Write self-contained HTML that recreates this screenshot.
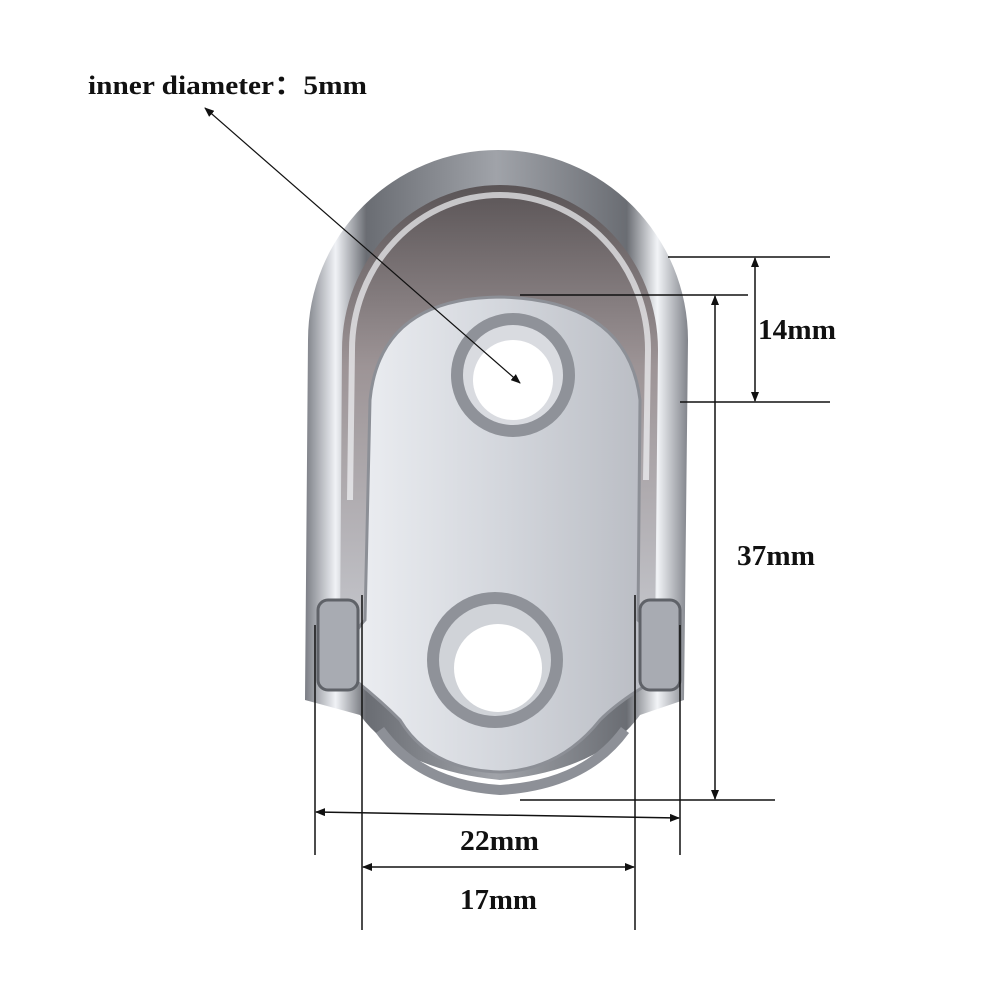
<!DOCTYPE html>
<html><head><meta charset="utf-8"><style>
html,body{margin:0;padding:0;background:#fff}
svg{display:block}
text{font-family:"Liberation Serif",serif;font-weight:bold;fill:#111}
</style></head><body>
<svg width="1000" height="1000" viewBox="0 0 1000 1000" xmlns="http://www.w3.org/2000/svg">
<defs>
<linearGradient id="chrome" x1="0" x2="1" y1="0" y2="0">
<stop offset="0" stop-color="#7a7d84"/><stop offset="0.08" stop-color="#f0f2f6"/><stop offset="0.16" stop-color="#6a6d73"/>
<stop offset="0.5" stop-color="#a0a3a9"/><stop offset="0.84" stop-color="#6a6d73"/><stop offset="0.92" stop-color="#f2f4f7"/><stop offset="1" stop-color="#80838a"/>
</linearGradient>
<linearGradient id="cav" x1="0" x2="0" y1="0" y2="1">
<stop offset="0" stop-color="#5a5456"/><stop offset="0.4" stop-color="#9d9496"/><stop offset="1" stop-color="#c5c7cd"/>
</linearGradient>
<linearGradient id="plate" x1="0" x2="1" y1="0" y2="0">
<stop offset="0" stop-color="#eceef2"/><stop offset="0.5" stop-color="#d3d6dc"/><stop offset="1" stop-color="#b8bbc2"/>
</linearGradient>
<marker id="ah" markerWidth="10" markerHeight="8" refX="9" refY="4" orient="auto-start-reverse" markerUnits="userSpaceOnUse">
<path d="M0,0 L10,4 L0,8 z" fill="#111"/></marker>
</defs>

<path d="M305,700 L308,340 A190,190 0 0 1 688,340 L684,700 L640,715 Q600,770 500,780 Q400,770 360,715 Z" fill="url(#chrome)"/>
<path d="M340,640 L342,350 A158,165 0 0 1 658,350 L655,640 Z" fill="url(#cav)"/>
<path d="M350,500 L352,350 A148,155 0 0 1 648,350 L646,480" fill="none" stroke="#f2f3f6" stroke-width="6" opacity="0.7"/>
<path d="M365,620 L370,400 Q380,298 500,297 Q628,300 640,400 L638,620 Q660,640 655,680 Q620,700 600,720 Q560,770 500,772 Q430,770 400,720 Q380,700 355,680 Q345,640 365,620 Z" fill="url(#plate)" stroke="#8c8f96" stroke-width="3"/>
<path d="M380,730 Q420,785 500,790 Q585,785 625,730" fill="none" stroke="#8d9097" stroke-width="10"/>
<rect x="318" y="600" width="40" height="90" rx="10" fill="#a8abb2" stroke="#5f6268" stroke-width="3"/>
<rect x="640" y="600" width="40" height="90" rx="10" fill="#a8abb2" stroke="#5f6268" stroke-width="3"/>
<circle cx="513" cy="375" r="62" fill="#8f9299"/><circle cx="513" cy="375" r="50" fill="#d9dbe0"/><circle cx="513" cy="380" r="40" fill="#fff"/>
<circle cx="495" cy="660" r="68" fill="#8f9299"/><circle cx="495" cy="660" r="56" fill="#d0d3d8"/><circle cx="498" cy="668" r="44" fill="#fff"/>

<text x="88" y="94" font-size="26" textLength="279" lengthAdjust="spacingAndGlyphs">inner diameter：5mm</text>
<line x1="205" y1="108" x2="520" y2="383" stroke="#111" stroke-width="1.2" marker-start="url(#ah)" marker-end="url(#ah)"/>

<g stroke="#111" stroke-width="1.5">
<line x1="668" y1="257" x2="830" y2="257"/>
<line x1="520" y1="295" x2="748" y2="295"/>
<line x1="680" y1="402" x2="830" y2="402"/>
<line x1="520" y1="800" x2="775" y2="800"/>
<line x1="755" y1="258" x2="755" y2="401" marker-start="url(#ah)" marker-end="url(#ah)"/>
<line x1="715" y1="296" x2="715" y2="799" marker-start="url(#ah)" marker-end="url(#ah)"/>
<line x1="315" y1="625" x2="315" y2="855"/>
<line x1="680" y1="625" x2="680" y2="855"/>
<line x1="316" y1="812" x2="679" y2="818" marker-start="url(#ah)" marker-end="url(#ah)"/>
<line x1="362" y1="595" x2="362" y2="930"/>
<line x1="635" y1="595" x2="635" y2="930"/>
<line x1="363" y1="867" x2="634" y2="867" marker-start="url(#ah)" marker-end="url(#ah)"/>
</g>
<text x="758" y="339" font-size="28" textLength="78" lengthAdjust="spacingAndGlyphs">14mm</text>
<text x="737" y="565" font-size="28" textLength="78" lengthAdjust="spacingAndGlyphs">37mm</text>
<text x="460" y="850" font-size="28" textLength="79" lengthAdjust="spacingAndGlyphs">22mm</text>
<text x="460" y="909" font-size="28" textLength="77" lengthAdjust="spacingAndGlyphs">17mm</text>
</svg>
</body></html>
